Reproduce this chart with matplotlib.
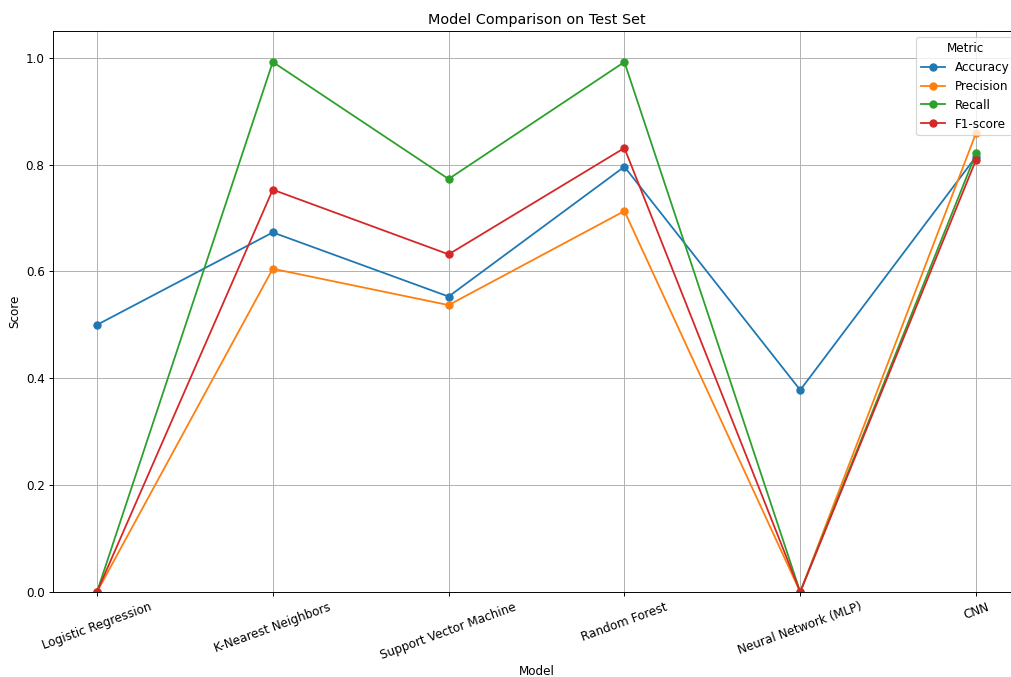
import matplotlib
matplotlib.use("Agg")
import matplotlib.pyplot as plt

models = ["Logistic Regression", "K-Nearest Neighbors", "Support Vector Machine",
          "Random Forest", "Neural Network (MLP)", "CNN"]
accuracy = [0.500, 0.673, 0.553, 0.796, 0.378, 0.815]
precision = [0.0, 0.605, 0.537, 0.713, 0.0, 0.859]
recall = [0.0, 0.992, 0.773, 0.992, 0.0, 0.821]
f1_score = [0.0, 0.753, 0.632, 0.831, 0.0, 0.809]

metrics = {
    "Accuracy": accuracy,
    "Precision": precision,
    "Recall": recall,
    "F1-score": f1_score,
}

DPI = 86
fig = plt.figure(figsize=(1011 / DPI, 677 / DPI), dpi=DPI)
ax = fig.add_axes([53 / 1011, 1 - 592 / 677, 967 / 1011, (592 - 31) / 677])

x = list(range(len(models)))
for name, vals in metrics.items():
    ax.plot(x, vals, marker="o", label=name)

ax.set_xticks(x)
ax.set_xticklabels(models, rotation=20, ha="center")
ax.set_xlim(-0.25, 5.25)
ax.set_ylim(0, 1.05)
ax.set_xlabel("Model", labelpad=2.5)
ax.set_ylabel("Score")
ax.set_title("Model Comparison on Test Set")
ax.grid(True)

ax.legend(title="Metric", loc="upper right")

fig.savefig("out.png", dpi=DPI)
